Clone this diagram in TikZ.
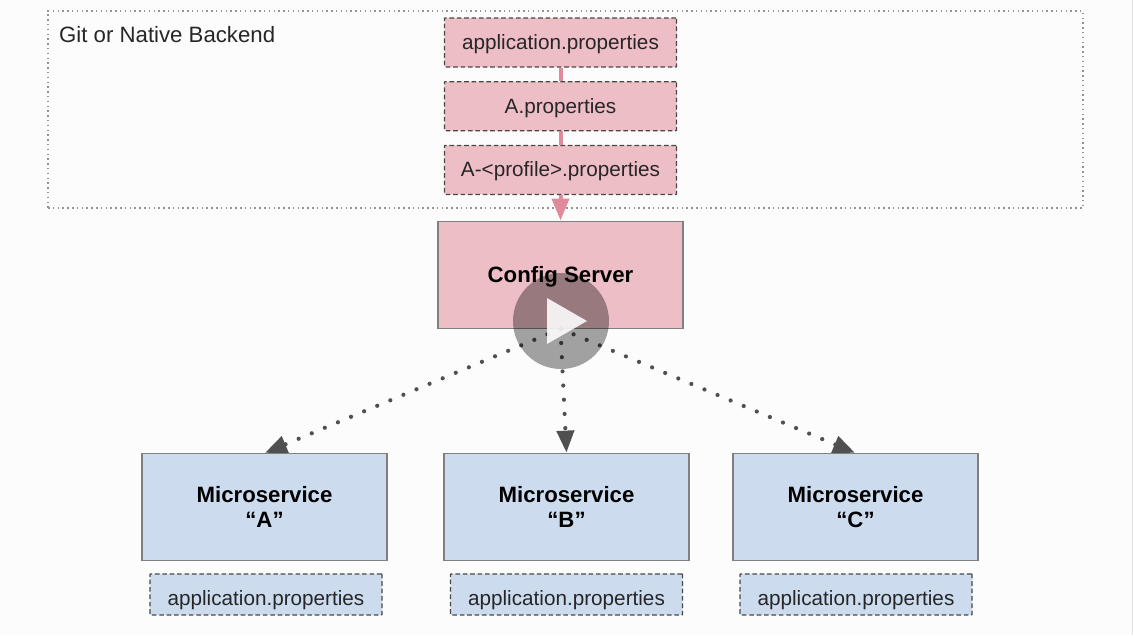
\documentclass[tikz,border=0pt]{standalone}
\usepackage{fontspec}
\setmainfont{Liberation Sans}
\usetikzlibrary{arrows.meta}

\definecolor{pinkfill}{HTML}{EEBEC6}
\definecolor{pinkline}{HTML}{E08B9B}
\definecolor{bluefill}{HTML}{CCDCEE}
\definecolor{darkdot}{HTML}{505050}

\tikzset{
	propfile/.style={draw=black!72, dash pattern=on 4.6pt off 2.8pt, line width=1.3pt, text=black!85, font=\fontsize{20.7}{25}\selectfont, inner sep=0pt, rounded corners=0.5pt},
	pinkfile/.style={propfile, fill=pinkfill, minimum width=232pt, minimum height=49pt, text height=18pt},
	bluefile/.style={propfile, fill=bluefill, minimum width=232pt, minimum height=41pt, text height=27pt},
	mainbox/.style={draw=black!50, line width=1.3pt, minimum width=245pt, minimum height=106.5pt, align=center, inner sep=0pt, font=\fontsize{22.2}{25.8}\selectfont\bfseries},
	chain/.style={draw, color=pinkline, line width=4pt},
	fetch/.style={-{Triangle[length=22pt,width=17pt]}, shorten >=0.5pt},
	pull/.style={draw, color=darkdot, line width=4.2pt, line cap=round, dash pattern=on 0pt off 14.2pt}
}

\begin{document}
\begin{tikzpicture}[x=1pt,y=-1pt,node distance=63.7pt]
				
						\useasboundingbox (0,0) rectangle (1133,635);
						\fill[white!99!black] (0,0) rectangle (1133,635);
						\fill[black!12] (1131.5,0) rectangle (1133,635);
						
						\node[draw=black!42, dash pattern=on 1.5pt off 3.3pt, line width=1.3pt, minimum width=1035pt, minimum height=197pt, inner sep=0pt] (backend) at (565.5,109.5) {};
						\node[anchor=west, inner sep=0pt, text=black!85, font=\fontsize{22.2}{25}\selectfont] (backendlabel) at (59,35) {Git or Native Backend};
						
						\node[pinkfile] (app) at (560.5,42.5) {application.properties};
						\node[pinkfile] (A) [below of=app] {A.properties};
						\node[pinkfile] (profile) [below of=A] {A-<profile>.properties};
						\node[mainbox, fill=pinkfill, text height=20pt] (config) [below of=profile, node distance=105pt] {Config Server};
						
						\node[mainbox, fill=bluefill] (microA) at (264.5,507) {Microservice\\“A”};
						\node[mainbox, fill=bluefill] (microB) [right of=microA, node distance=302pt] {Microservice\\“B”};
						\node[mainbox, fill=bluefill] (microC) [right of=microB, node distance=289pt] {Microservice\\“C”};
						
						\node[bluefile] (fileA) [below of=microA, node distance=87.5pt, xshift=1.5pt] {application.properties};
						\node[bluefile] (fileB) [below of=microB, node distance=87.5pt] {application.properties};
						\node[bluefile] (fileC) [below of=microC, node distance=87.5pt, xshift=0.5pt] {application.properties};
						
						\path[chain]
						(app) edge (A)
						(A) edge (profile)
						(profile) edge [fetch] (config);
						
						\path[pull]
						(config.south) edge [fetch] (microA.north)
						(config.south) edge [fetch] (microB.north)
						(config.south) edge [fetch] (microC.north);
						
						\fill[black, opacity=0.36] (561,321) circle (48);
						\fill[white, opacity=0.88] (547,298) -- (587,321) -- (547,344) -- cycle;
					\end{tikzpicture}
\end{document}
